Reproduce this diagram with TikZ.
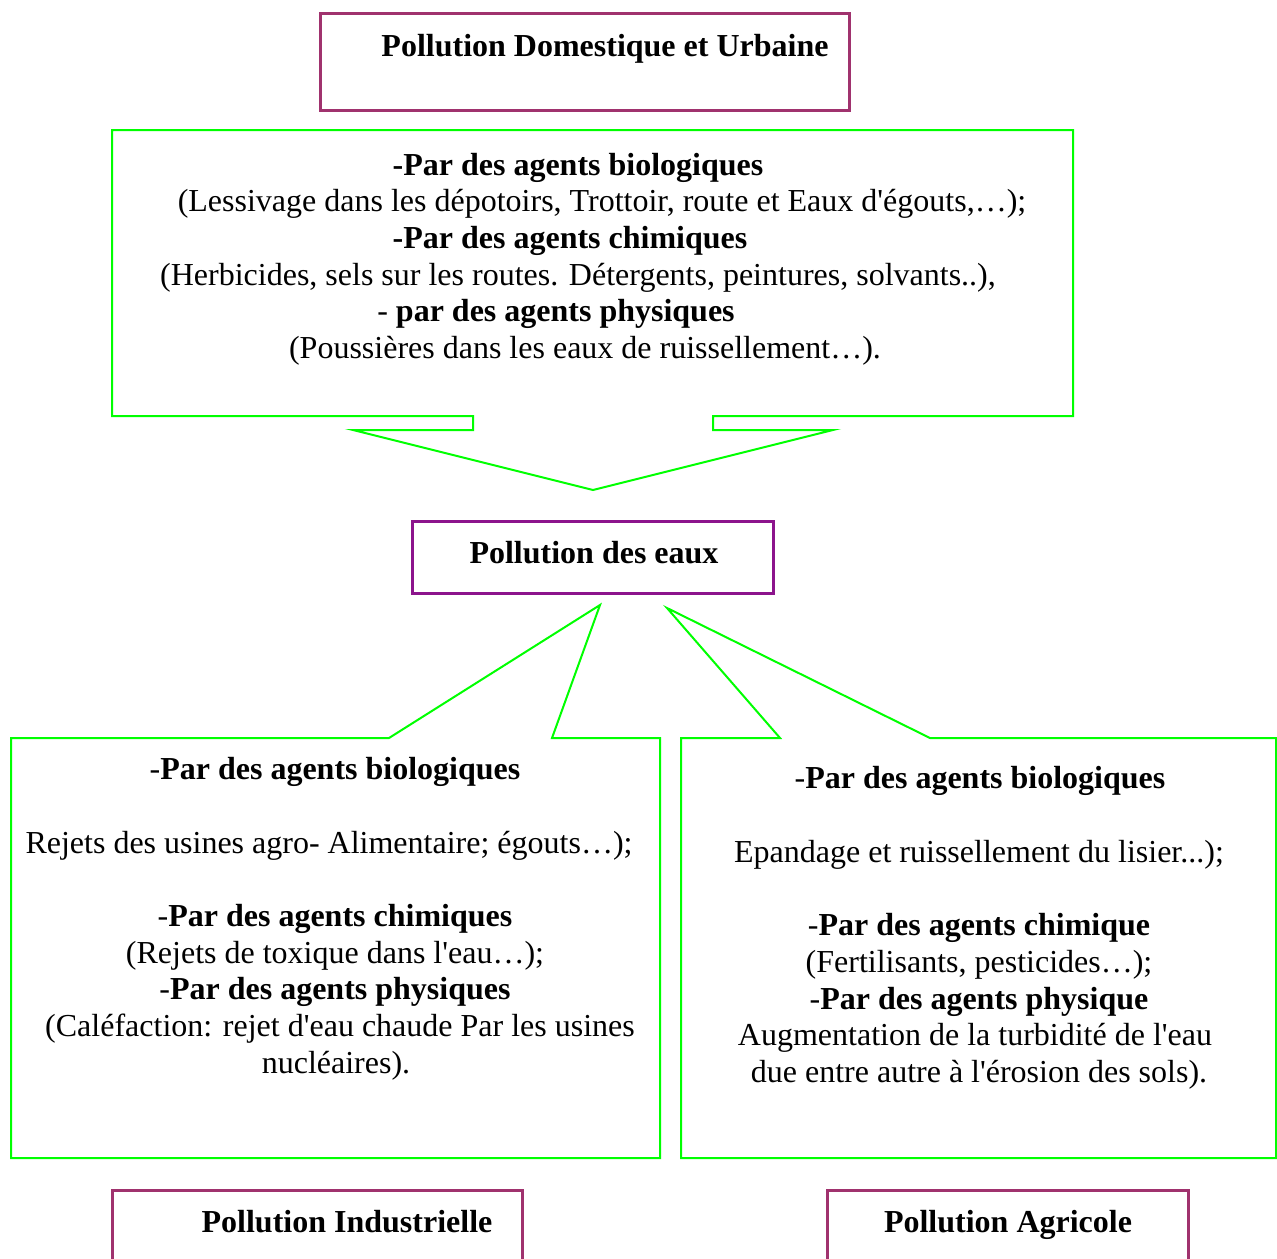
\documentclass[tikz,border=0pt]{standalone}
\usepackage{fontspec}
\setmainfont{Liberation Serif}[Ligatures=TeXOff]
\definecolor{boxrose}{RGB}{160,50,110}
\definecolor{boxviolet}{RGB}{140,20,140}
\definecolor{calloutgreen}{RGB}{0,255,0}
\tikzset{
  txt/.style={font=\fontsize{16}{18.4}\selectfont, inner sep=0pt, anchor=base},
  ttl/.style={txt, font=\fontsize{16}{18.4}\selectfont\bfseries},
  rosebox/.style={draw=boxrose, line width=1.5pt, rectangle, inner sep=0pt},
  violetbox/.style={draw=boxviolet, line width=1.5pt, rectangle, inner sep=0pt},
  callout/.style={draw=calloutgreen, line width=1pt, line join=miter}
}
\begin{document}
\begin{tikzpicture}[x=0.5pt,y=-0.5pt]
\useasboundingbox (0,0) rectangle (1277,1258);
\clip (0,0) rectangle (1277,1258);
\fill[white] (0,0) rectangle (1277,1258);

% ---- title boxes ----
\node[rosebox, minimum width=264.5pt, minimum height=48.5pt] (domBox) at (584.5,61.5) {};
\node[ttl] (domTitle) at (605,56) {Pollution Domestique et Urbaine};

\node[violetbox, minimum width=180.5pt, minimum height=36pt] (eauxBox) at (592.5,557) {};
\node[ttl] (eauxTitle) at (594,563) {Pollution des eaux};

\node[rosebox, minimum width=205pt, minimum height=55pt] (indBox) at (317,1245) {};
\node[ttl] (indTitle) at (347,1232) {Pollution Industrielle};

\node[rosebox, minimum width=180.5pt, minimum height=55pt] (agrBox) at (1007.5,1245) {};
\node[ttl] (agrTitle) at (1008,1232) {Pollution Agricole};

% ---- green callouts ----
\draw[callout] (112,130) -- (1073,130) -- (1073,416) -- (713,416) -- (713,430)
  -- (833,430) -- (593,490) -- (353,430) -- (473,430) -- (473,416) -- (112,416) -- cycle;
\draw[callout] (11,738) -- (389,738) -- (600,605) -- (552,738) -- (660,738)
  -- (660,1158) -- (11,1158) -- cycle;
\draw[callout] (681,738) -- (780,738) -- (667,608) -- (930,738) -- (1276,738)
  -- (1276,1158) -- (681,1158) -- cycle;

% ---- top text ----
\node[txt] (t1) at (578,175) {\textbf{-Par des agents biologiques}};
\node[txt] (t2) at (602,211.7) {(Lessivage dans les dépotoirs, Trottoir, route et Eaux d'égouts,…);};
\node[txt] (t3) at (570,248.4) {\textbf{-Par des agents chimiques}};
\node[txt] (t4) at (578,285) {(Herbicides, sels sur les routes. Détergents, peintures, solvants..),};
\node[txt] (t5) at (556,321.8) {- \textbf{par des agents physiques}};
\node[txt] (t6) at (585,358.5) {(Poussières dans les eaux de ruissellement…).};

% ---- industrial text ----
\node[txt] (i1) at (335,779.5) {-\textbf{Par des agents biologiques}};
\node[txt] (i2) at (329,853) {Rejets des usines agro- Alimentaire; égouts…);};
\node[txt] (i3) at (335,926) {-\textbf{Par des agents chimiques}};
\node[txt] (i4) at (335,963) {(Rejets de toxique dans l'eau…);};
\node[txt] (i5) at (335,999.5) {-\textbf{Par des agents physiques}};
\node[txt] (i6) at (340,1036.5) {(Caléfaction: rejet d'eau chaude Par les usines};
\node[txt] (i7) at (336,1073) {nucléaires).};

% ---- agricultural text ----
\node[txt] (a1) at (980,788.5) {-\textbf{Par des agents biologiques}};
\node[txt] (a2) at (979,862) {Epandage et ruissellement du lisier...);};
\node[txt] (a3) at (979,935) {-\textbf{Par des agents chimique}};
\node[txt] (a4) at (979,972) {(Fertilisants, pesticides…);};
\node[txt] (a5) at (979,1009) {-\textbf{Par des agents physique}};
\node[txt] (a6) at (975,1045.5) {Augmentation de la turbidité de l'eau};
\node[txt] (a7) at (979,1082.5) {due entre autre à l'érosion des sols).};
\end{tikzpicture}
\end{document}
